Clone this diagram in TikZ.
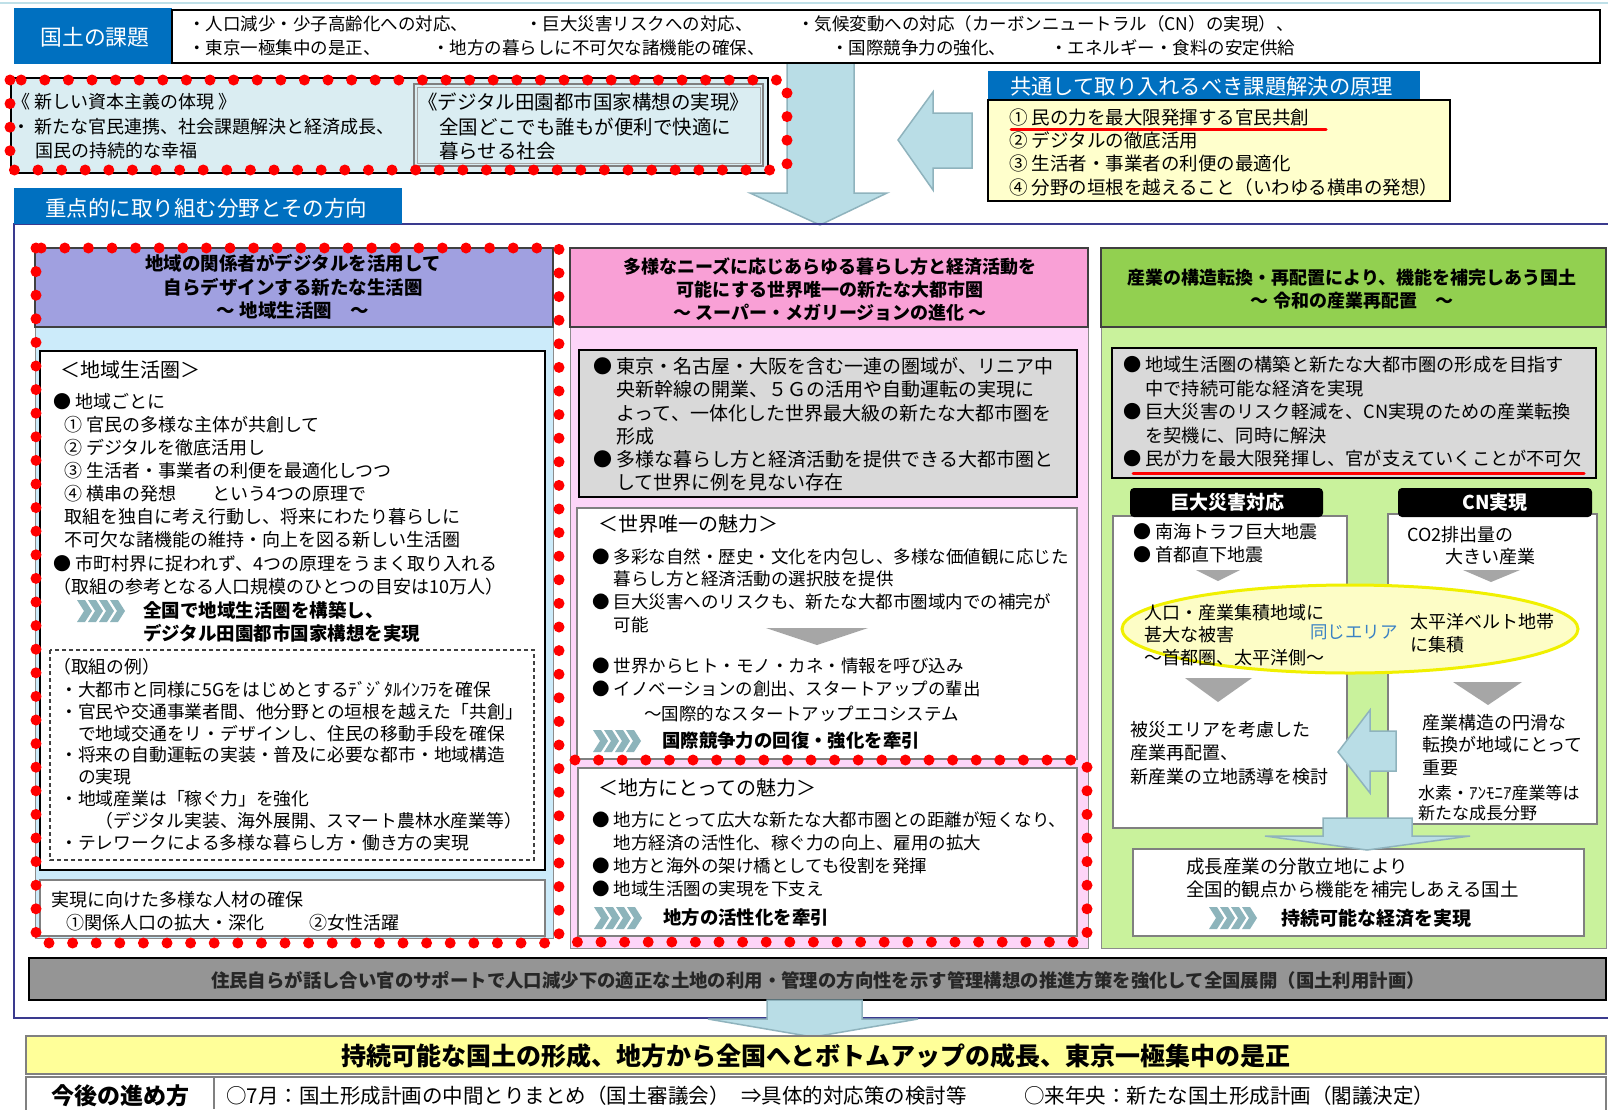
\documentclass[tikz,border=0pt]{standalone}
\usepackage{fontspec}
\setmainfont{Noto Sans CJK JP}
\definecolor{hblue}{HTML}{0070C0}
\definecolor{topline}{HTML}{BFE0E8}
\definecolor{palebox}{HTML}{DAEDF2}
\definecolor{arrowfill}{HTML}{B9DDE6}
\definecolor{arrowline}{HTML}{8FB3BD}
\definecolor{lyellow}{HTML}{FFFFCC}
\definecolor{framec}{HTML}{3A3A8E}
\definecolor{cOneHd}{HTML}{A0A0E0}
\definecolor{cOneBg}{HTML}{CCEBFA}
\definecolor{cTwoHd}{HTML}{F9A0D6}
\definecolor{cTwoBg}{HTML}{FDD5F8}
\definecolor{cThreeHd}{HTML}{92D050}
\definecolor{cThreeBg}{HTML}{C9F29C}
\definecolor{boxgray}{HTML}{D9D9D9}
\definecolor{trigray}{HTML}{A6A6A6}
\definecolor{chevc}{HTML}{8DB4BB}
\definecolor{ellfill}{HTML}{FDFDC6}
\definecolor{elldraw}{HTML}{F0F000}
\definecolor{samec}{HTML}{3B82C4}
\definecolor{barGray}{HTML}{959595}
\definecolor{byellow}{HTML}{FFFF99}
\newcommand\fz[2]{\fontsize{#1}{#2}\selectfont}
\newcommand\ph{\phantom{● }}
\begin{document}
\begin{tikzpicture}[x=1pt,y=-1pt,
  tl/.style={anchor=west,inner sep=0pt},
  tb/.style={anchor=north west,inner sep=0pt,align=left},
  tc/.style={anchor=north,inner sep=0pt,align=center},
  reddots/.style={draw=red,line width=11pt,dash pattern=on 0pt off 23.6pt,line cap=round},
  bluearrow/.style={fill=arrowfill,draw=arrowline,line width=1.5pt},
  hdrbox/.style={draw=black!75,line width=1.5pt},
  bgbox/.style={draw=black!45,line width=1pt},
  graybox/.style={draw=black,line width=2pt,fill=boxgray},
  whitebox/.style={draw=black!50,line width=1.2pt,fill=white},
  redline/.style={draw=red,line width=3pt,line cap=round},
  chevs/.pic={\foreach \i in {0,1,2,3}{\fill[chevc] (\i*11,-11) -- ++(8,0) -- ++(7,11) -- ++(-7,11) -- ++(-8,0) -- ++(7,-11) -- cycle;}},
]
\useasboundingbox[fill=white] (0,0) rectangle (1608,1109);
\draw[topline,line width=2pt] (0,3) -- (1608,3);

% big arrows
\draw[bluearrow] (787,62) -- (854,62) -- (854,193) -- (887,193) -- (820,225) -- (750,193) -- (787,193) -- cycle;
\draw[bluearrow] (898,140) -- (933,92) -- (933,113) -- (972,113) -- (972,168) -- (933,168) -- (933,190) -- cycle;

% top row
\fill[hblue] (14,8) rectangle (172,64);
\node[white,font=\fz{21.8}{26}] (kadai) at (95,37) {国土の課題};
\draw[line width=2pt,fill=white] (172,10) rectangle (1600,63);
\node[tl,font=\fz{17.5}{20}] (k1) at (188,24) {・人口減少・少子高齢化への対応、};
\node[tl,font=\fz{17.5}{20}] (k2) at (525,24) {・巨大災害リスクへの対応、};
\node[tl,font=\fz{17.5}{20}] (k3) at (797,24) {・気候変動への対応（カーボンニュートラル（CN）の実現）、};
\node[tl,font=\fz{17.5}{20}] (k4) at (188,48) {・東京一極集中の是正、};
\node[tl,font=\fz{17.5}{20}] (k5) at (432,48) {・地方の暮らしに不可欠な諸機能の確保、};
\node[tl,font=\fz{17.5}{20}] (k6) at (831,48) {・国際競争力の強化、};
\node[tl,font=\fz{17.5}{20}] (k7) at (1050,48) {・エネルギー・食料の安定供給};

% top-left dotted box
\draw[line width=2.5pt,fill=palebox] (11,78) rectangle (768,173);
\draw[draw=black!50,line width=1.2pt] (414,84) rectangle (763,166);
\draw[draw=black!35,line width=0.8pt] (417,87) rectangle (760,163);
\node[tl,font=\fz{18}{22}] (s1) at (12,102) {《 新しい資本主義の体現 》};
\node[tl,font=\fz{18}{22}] (s2) at (12,127) {・\hspace{4pt}新たな官民連携、社会課題解決と経済成長、};
\node[tl,font=\fz{18}{22}] (s3) at (35,151) {国民の持続的な幸福};
\node[tl,font=\fz{19.5}{24}] (d1) at (418,102) {《デジタル田園都市国家構想の実現》};
\node[tl,font=\fz{19.5}{24}] (d2) at (439,127) {全国どこでも誰もが便利で快適に};
\node[tl,font=\fz{19.5}{24}] (d3) at (439,151) {暮らせる社会};
\draw[reddots] (10,80) rectangle (787,170);

% principles
\fill[hblue] (988,71) rectangle (1420,100);
\node[tl,white,font=\fz{21.3}{25}] (gh) at (1010,86) {共通して取り入れるべき課題解決の原理};
\draw[line width=1.5pt,fill=lyellow] (988,100) rectangle (1450,201);
\node[tb,font=\fz{18.5}{23.3}] (gp) at (1009,108.5) {① 民の力を最大限発揮する官民共創\\② デジタルの徹底活用\\③ 生活者・事業者の利便の最適化\\④ 分野の垣根を越えること（いわゆる横串の発想）};
\draw[redline] (1011,129) -- (1326,129);

% frame and tab
\draw[framec,line width=1.5pt] (1608,224) -- (14,224) -- (14,1018) -- (1608,1018);
\fill[hblue] (14,188) rectangle (402,224);
\node[tl,white,font=\fz{21.5}{25}] (tab) at (45,208) {重点的に取り組む分野とその方向};

% column 1
\draw[bgbox,fill=cOneBg] (35,327) rectangle (553,938);
\draw[hdrbox,fill=cOneHd] (35,248) rectangle (553,327);
\node[tc,font=\bfseries\fz{18.5}{23.5}] (h1) at (293,254.5) {地域の関係者がデジタルを活用して\\自らデザインする新たな生活圏\\～ 地域生活圏　～};
\draw[line width=2pt,fill=white] (40,351) rectangle (545,870);
\node[tl,font=\fz{20}{24}] (t1) at (60,370) {＜地域生活圏＞};
\node[tb,font=\fz{18}{23.1}] (l1) at (53,393) {● 地域ごとに\\
\hspace*{11pt}① 官民の多様な主体が共創して\\
\hspace*{11pt}② デジタルを徹底活用し\\
\hspace*{11pt}③ 生活者・事業者の利便を最適化しつつ\\
\hspace*{11pt}④ 横串の発想　　という4つの原理で\\
\hspace*{11pt}取組を独自に考え行動し、将来にわたり暮らしに\\
\hspace*{11pt}不可欠な諸機能の維持・向上を図る新しい生活圏\\
● 市町村界に捉われず、4つの原理をうまく取り入れる\\
（取組の参考となる人口規模のひとつの目安は10万人）};
\pic at (77,611) {chevs};
\node[tb,font=\bfseries\fz{18.5}{23}] (l2) at (143,601.7) {全国で地域生活圏を構築し、\\デジタル田園都市国家構想を実現};
\draw[draw=black!75,line width=1.2pt,dash pattern=on 4pt off 3pt] (50,650) rectangle (534,860);
\node[tl,font=\fz{17.8}{22}] (l3) at (53,667) {（取組の例）};
\node[tb,font=\fz{17.8}{21.86}] (l4) at (60,681) {・大都市と同様に5Gをはじめとするﾃﾞｼﾞﾀﾙｲﾝﾌﾗを確保\\
・官民や交通事業者間、他分野との垣根を越えた「共創」\\
\hspace*{1em}で地域交通をリ・デザインし、住民の移動手段を確保\\
・将来の自動運転の実装・普及に必要な都市・地域構造\\
\hspace*{1em}の実現\\
・地域産業は「稼ぐ力」を強化\\
\hspace*{2em}（デジタル実装、海外展開、スマート農林水産業等）\\
・テレワークによる多様な暮らし方・働き方の実現};
\draw[whitebox] (40,880) rectangle (545,936);
\node[tl,font=\fz{18}{22}] (l5) at (51,900) {実現に向けた多様な人材の確保};
\node[tl,font=\fz{18}{22}] (l6) at (66,923) {①関係人口の拡大・深化\hspace{45pt}②女性活躍};
\draw[reddots] (36,248) rectangle (559,943);

% column 2
\draw[bgbox,fill=cTwoBg] (570,327) rectangle (1088,948);
\draw[hdrbox,fill=cTwoHd] (570,248) rectangle (1088,327);
\node[tc,font=\bfseries\fz{18}{23}] (h2) at (830,258) {多様なニーズに応じあらゆる暮らし方と経済活動を\\可能にする世界唯一の新たな大都市圏\\～ スーパー・メガリージョンの進化 ～};
\draw[graybox] (579,350) rectangle (1077,497);
\node[tb,font=\fz{19}{23.2}] (m1) at (593,357.5) {● 東京・名古屋・大阪を含む一連の圏域が、リニア中\\
\ph 央新幹線の開業、５Ｇの活用や自動運転の実現に\\
\ph よって、一体化した世界最大級の新たな大都市圏を\\
\ph 形成\\
● 多様な暮らし方と経済活動を提供できる大都市圏と\\
\ph して世界に例を見ない存在};
\draw[whitebox] (577,508) rectangle (1077,759);
\node[tl,font=\fz{20}{24}] (m2) at (598,524) {＜世界唯一の魅力＞};
\node[tb,font=\fz{17.5}{22.7}] (m3) at (592,548) {● 多彩な自然・歴史・文化を内包し、多様な価値観に応じた\\
\ph 暮らし方と経済活動の選択肢を提供\\
● 巨大災害へのリスクも、新たな大都市圏域内での補完が\\
\ph 可能};
\fill[trigray] (766,628) -- (868,628) -- (817,645) -- cycle;
\node[tb,font=\fz{17.5}{23}] (m4) at (592,658) {● 世界からヒト・モノ・カネ・情報を呼び込み\\● イノベーションの創出、スタートアップの輩出};
\node[tl,font=\fz{17.5}{22}] (m5) at (644,714) {～国際的なスタートアップエコシステム};
\pic at (593,741) {chevs};
\node[tl,font=\bfseries\fz{18.4}{22}] (m6) at (662,741) {国際競争力の回復・強化を牽引};
\draw[whitebox] (578,768) rectangle (1077,936);
\node[tl,font=\fz{20}{24}] (m7) at (598,788) {＜地方にとっての魅力＞};
\node[tb,font=\fz{17.5}{23}] (m8) at (592,811) {● 地方にとって広大な新たな大都市圏との距離が短くなり、\\
\ph 地方経済の活性化、稼ぐ力の向上、雇用の拡大\\
● 地方と海外の架け橋としても役割を発揮\\
● 地域生活圏の実現を下支え};
\pic at (594,918) {chevs};
\node[tl,font=\bfseries\fz{18.4}{22}] (m9) at (663,918) {地方の活性化を牽引};
\draw[reddots] (575,760) -- (1087,760) -- (1087,942) -- (575,942);

% column 3
\draw[bgbox,fill=cThreeBg] (1101,327) rectangle (1606,948);
\draw[hdrbox,fill=cThreeHd] (1101,248) rectangle (1606,327);
\node[tc,font=\bfseries\fz{18}{22.5}] (h3) at (1352,269) {産業の構造転換・再配置により、機能を補完しあう国土\\～ 令和の産業再配置　～};
\draw[graybox] (1112,348) rectangle (1596,478);
\node[tb,font=\fz{18.2}{23.5}] (r1) at (1123,356) {● 地域生活圏の構築と新たな大都市圏の形成を目指す\\
\ph 中で持続可能な経済を実現\\
● 巨大災害のリスク軽減を、CN実現のための産業転換\\
\ph を契機に、同時に解決\\
● 民が力を最大限発揮し、官が支えていくことが不可欠};
\draw[redline] (1133,473) -- (1584,473);
\draw[whitebox] (1113,516) rectangle (1347,828);
\draw[whitebox] (1388,514) rectangle (1597,824);
\fill[rounded corners=4pt] (1130,488) rectangle (1323,517);
\fill[rounded corners=4pt] (1398,488) rectangle (1592,517);
\node[white,font=\bfseries\fz{19}{22}] (lb1) at (1227,502) {巨大災害対応};
\node[white,font=\bfseries\fz{19}{22}] (lb2) at (1495,502) {CN実現};
\node[tb,font=\fz{18}{23}] (r2) at (1133,523) {● 南海トラフ巨大地震\\● 首都直下地震};
\node[tl,font=\fz{18}{22}] (r3) at (1407,535) {CO2排出量の};
\node[tl,font=\fz{18}{22}] (r4) at (1445,557) {大きい産業};
\fill[trigray] (1196,570) -- (1240,570) -- (1218,581) -- cycle;
\fill[trigray] (1463,570) -- (1520,570) -- (1491,582) -- cycle;
\draw[draw=elldraw,fill=ellfill,line width=3pt] (1350,629) ellipse [x radius=228pt,y radius=44pt];
\node[tb,font=\fz{18}{22.5}] (e1) at (1144,604) {人口・産業集積地域に\\甚大な被害\\～首都圏、太平洋側～};
\node[font=\fz{17.5}{20},text=samec] (e2) at (1354,632) {同じエリア};
\node[tb,font=\fz{18}{23}] (e3) at (1410,613) {太平洋ベルト地帯\\に集積};
\fill[trigray] (1185,678) -- (1252,678) -- (1218,702) -- cycle;
\fill[trigray] (1453,682) -- (1522,682) -- (1488,705) -- cycle;
\draw[bluearrow] (1338,752) -- (1370,710) -- (1370,731) -- (1396,731) -- (1396,771) -- (1370,771) -- (1370,793) -- cycle;
\node[tb,font=\fz{18}{23.5}] (r5) at (1130,721) {被災エリアを考慮した\\産業再配置、\\新産業の立地誘導を検討};
\node[tb,font=\fz{18}{22.5}] (r6) at (1422,714) {産業構造の円滑な\\転換が地域にとって\\重要};
\node[tb,font=\fz{17}{20}] (r7) at (1418,784.5) {水素・ｱﾝﾓﾆｱ産業等は\\新たな成長分野};
\draw[whitebox] (1133,849) rectangle (1584,936);
\draw[bluearrow] (1323,818) -- (1412,818) -- (1412,836) -- (1470,836) -- (1367,850) -- (1265,836) -- (1323,836) -- cycle;
\node[tb,font=\fz{18.5}{23}] (r8) at (1186,857.5) {成長産業の分散立地により\\全国的観点から機能を補完しあえる国土};
\pic at (1209,918) {chevs};
\node[tl,font=\bfseries\fz{19}{22}] (r9) at (1281,918) {持続可能な経済を実現};

% bottom
\draw[line width=2pt,fill=barGray] (29,958) rectangle (1606,1000);
\node[font=\bfseries\fz{18.4}{22},text=black!85] (gb) at (818,980) {住民自らが話し合い官のサポートで人口減少下の適正な土地の利用・管理の方向性を示す管理構想の推進方策を強化して全国展開（国土利用計画）};
\draw[bluearrow] (767,1000) -- (862,1000) -- (862,1019) -- (918,1019) -- (813,1037) -- (708,1019) -- (767,1019) -- cycle;
\draw[draw=black!50,line width=1.2pt,fill=byellow] (26,1036) rectangle (1606,1074);
\node[font=\bfseries\fz{25}{28}] (yb) at (816,1056) {持続可能な国土の形成、地方から全国へとボトムアップの成長、東京一極集中の是正};
\draw[draw=black!50,line width=1.2pt] (26,1077) rectangle (1606,1115);
\draw[draw=black!50,line width=1.2pt] (214,1077) -- (214,1109);
\node[font=\bfseries\fz{23}{26}] (sus) at (120,1096) {今後の進め方};
\node[tl,font=\fz{20.5}{24}] (b1) at (226,1096) {○7月：国土形成計画の中間とりまとめ（国土審議会）};
\node[tl,font=\fz{20.5}{24}] (b2) at (741,1096) {⇒具体的対応策の検討等};
\node[tl,font=\fz{20.5}{24}] (b3) at (1024,1096) {○来年央：新たな国土形成計画（閣議決定）};
\end{tikzpicture}
\end{document}
